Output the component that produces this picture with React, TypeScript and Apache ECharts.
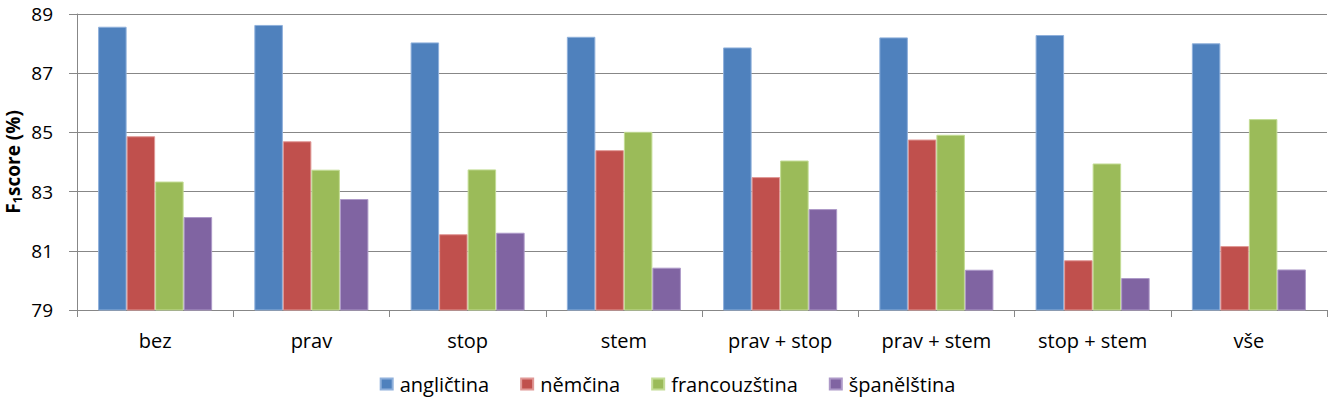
import React, { useEffect, useRef } from "react";
import * as echarts from "echarts";

const categories = ["bez", "prav", "stop", "stem", "prav + stop", "prav + stem", "stop + stem", "vše"];
const seriesNames = ["angličtina", "němčina", "francouzština", "španělština"];
const anglictina = [88.57, 88.63, 88.04, 88.23, 87.87, 88.21, 88.29, 88.01];
const nemcina = [84.87, 84.7, 81.56, 84.4, 83.49, 84.76, 80.68, 81.16];
const francouzstina = [83.34, 83.74, 83.75, 85.02, 84.05, 84.92, 83.95, 85.45];
const spanelstina = [82.14, 82.75, 81.61, 80.43, 82.41, 80.36, 80.08, 80.37];
const yTicks = [79, 81, 83, 85, 87, 89];

const colors = ["#4F81BD", "#C0504D", "#9BBB59", "#8064A2"];
const borders = ["#8fb0db", "#e09896", "#c3dc95", "#ad99c8"];
const FONT = "'Open Sans', sans-serif";

export default function App() {
  const ref = useRef<HTMLDivElement>(null);
  useEffect(() => {
    if (!ref.current) return;
    const chart = echarts.init(ref.current, null, { renderer: "svg" });
    const data = [anglictina, nemcina, francouzstina, spanelstina];
    chart.setOption({
      animation: false,
      textStyle: { fontFamily: FONT },
      grid: { left: 77, right: 8, top: 14, bottom: 93, containLabel: false, outerBoundsMode: "none" },
      legend: {
        data: seriesNames,
        bottom: 4,
        left: "center",
        icon: "rect",
        itemWidth: 12,
        itemHeight: 11,
        itemGap: 31,
        textStyle: { fontFamily: FONT, fontSize: 20, color: "#000", padding: [0, 0, 0, 2] },
      },
      xAxis: {
        type: "category",
        data: categories,
        boundaryGap: true,
        axisLine: { lineStyle: { color: "#878787", width: 1 } },
        axisTick: { show: true, length: 7, lineStyle: { color: "#878787" } },
        axisLabel: { fontFamily: FONT, fontSize: 20, color: "#000", margin: 20 },
      },
      yAxis: {
        type: "value",
        min: yTicks[0],
        max: yTicks[yTicks.length - 1],
        interval: 2,
        name: "{f|F}{s|1}{f|score (%)}",
        nameLocation: "middle",
        nameGap: 54,
        nameMoveOverlap: false,
        nameTextStyle: {
          rich: {
            f: { fontFamily: FONT, fontSize: 19, fontWeight: "bold", color: "#000", lineHeight: 20, verticalAlign: "middle" },
            s: { fontFamily: FONT, fontSize: 13, fontWeight: "bold", color: "#000", lineHeight: 13, verticalAlign: "bottom" },
          },
        },
        axisLine: { show: true, lineStyle: { color: "#878787", width: 1 } },
        axisTick: { show: true, length: 8, lineStyle: { color: "#878787" } },
        axisLabel: { fontFamily: FONT, fontSize: 19, color: "#000", margin: 24 },
        splitLine: { show: true, lineStyle: { color: "#878787", width: 1 } },
      },
      series: seriesNames.map((name, i) => ({
        name,
        type: "bar",
        data: data[i],
        barGap: "0%",
        barCategoryGap: "27%",
        itemStyle: { color: colors[i], borderColor: borders[i], borderWidth: 1 },
      })),
    });
    return () => chart.dispose();
  }, []);
  return (
    <div
      ref={ref}
      style={{ position: "fixed", left: 0, top: 0, width: 1335, height: 403, background: "#fff" }}
    />
  );
}
